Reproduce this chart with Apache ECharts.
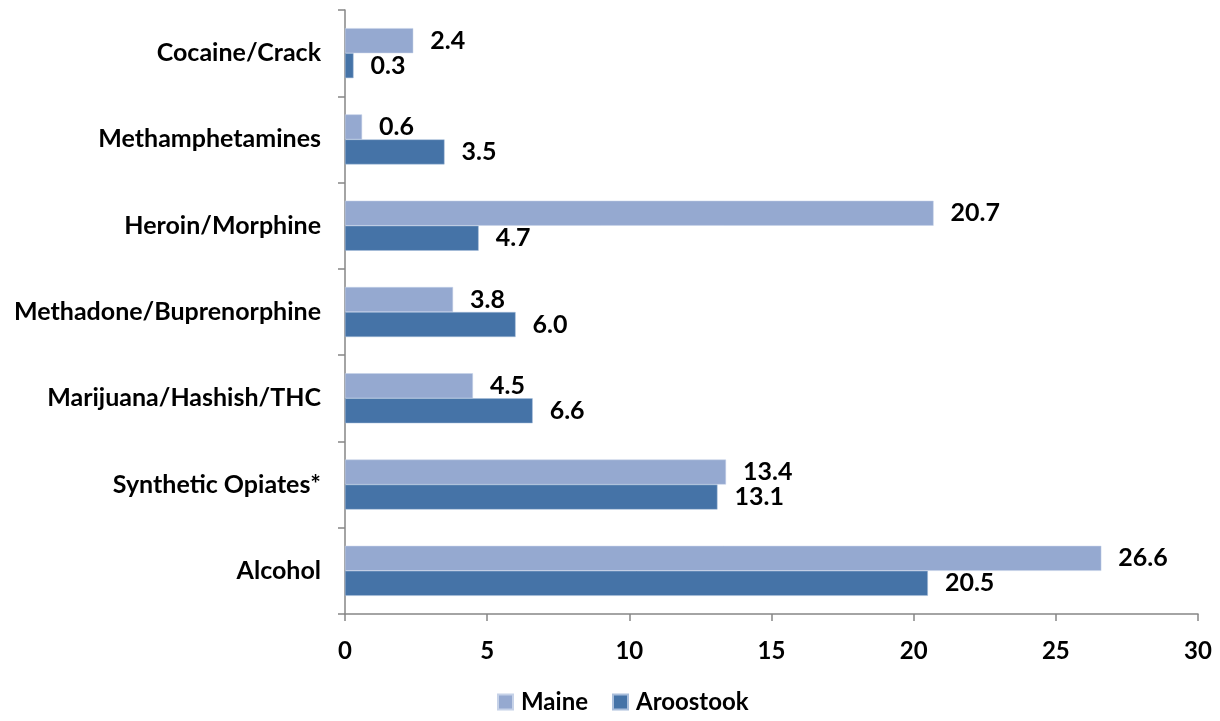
<!DOCTYPE html>
<html>
<head>
<meta charset="utf-8">
<script src="https://cdn.jsdelivr.net/npm/echarts@6/dist/echarts.min.js"></script>
<style>
html,body{margin:0;padding:0;background:#fff;}
#chart{width:1220px;height:721px;}
</style>
</head>
<body>
<div id="chart"></div>
<script>
const categories = ['Alcohol','Synthetic Opiates*','Marijuana/Hashish/THC','Methadone/Buprenorphine','Heroin/Morphine','Methamphetamines','Cocaine/Crack'];
const maine = [26.6, 13.4, 4.5, 3.8, 20.7, 0.6, 2.4];
const aroostook = [20.5, 13.1, 6.6, 6.0, 4.7, 3.5, 0.3];
const xTicks = [0, 5, 10, 15, 20, 25, 30];

const FONT = 'Lato, "Open Sans", sans-serif';
const W = 'bold';
const chart = echarts.init(document.getElementById('chart'));
const labelStyle = {
  show: true, position: 'right', distance: 17,
  fontFamily: FONT, fontWeight: W, fontSize: 25, color: '#000',
  formatter: p => p.value.toFixed(1)
};
chart.setOption({
  animation: false,
  grid: {left: 345, right: 22, top: 10, bottom: 107},
  legend: {
    data: ['Maine','Aroostook'], bottom: 2, left: 492,
    itemWidth: 15, itemHeight: 15, itemGap: 24,
    icon: 'rect',
    textStyle: {fontFamily: FONT, fontWeight: W, fontSize: 24, color: '#000', padding: [0, 0, 0, 3]}
  },
  xAxis: {
    type: 'value', min: xTicks[0], max: xTicks[xTicks.length-1], interval: 5,
    axisLine: {show: true, lineStyle: {color: '#868686', width: 1.5}},
    axisTick: {show: true, length: 7, lineStyle: {color: '#868686', width: 1.5}},
    splitLine: {show: false},
    axisLabel: {fontFamily: FONT, fontWeight: W, fontSize: 24, color: '#000', margin: 25}
  },
  yAxis: {
    type: 'category', data: categories,
    axisLine: {show: true, lineStyle: {color: '#868686', width: 1.5}},
    axisTick: {show: true, length: 7, lineStyle: {color: '#868686', width: 1.5}},
    axisLabel: {fontFamily: FONT, fontWeight: W, fontSize: 25, color: '#000', margin: 24}
  },
  series: [
    {name: 'Maine', type: 'bar', data: maine, barWidth: 25, barGap: '0%',
     itemStyle: {color: '#95A9D0', borderColor: '#c6d2e8', borderWidth: 0.5}, label: labelStyle},
    {name: 'Aroostook', type: 'bar', data: aroostook, barWidth: 25, barGap: '0%',
     itemStyle: {color: '#4573A7', borderColor: '#a9bedb', borderWidth: 0.5}, label: labelStyle}
  ]
});
</script>
</body>
</html>
